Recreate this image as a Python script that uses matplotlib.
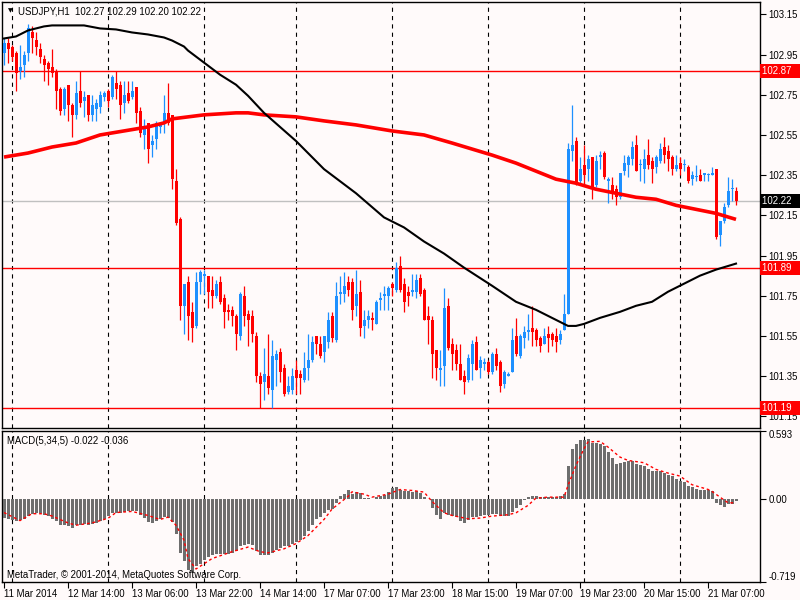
import numpy as np
import matplotlib
matplotlib.use("Agg")
import matplotlib.pyplot as plt
from matplotlib.transforms import blended_transform_factory

plt.rcParams['font.family'] = ['Liberation Sans', 'DejaVu Sans']
plt.rcParams['lines.scale_dashes'] = False

# USDJPY H1 candles, 11 Mar 2014 22:00 .. 21 Mar 2014
opens = [
    102.96, 103.01, 102.99, 102.96, 102.87, 102.90, 102.96, 103.06, 103.02, 102.98,
    102.93, 102.91, 102.89, 102.87, 102.78, 102.68, 102.80, 102.70, 102.65, 102.77,
    102.72, 102.75, 102.65, 102.68, 102.69, 102.74, 102.77, 102.74, 102.81, 102.80,
    102.71, 102.76, 102.74, 102.79, 102.67, 102.55, 102.61, 102.50, 102.53, 102.59,
    102.61, 102.66, 102.65, 102.32, 102.13, 101.70, 101.82, 101.67, 101.60, 101.82,
    101.85, 101.85, 101.78, 101.75, 101.82, 101.74, 101.68, 101.68, 101.65, 101.55,
    101.75, 101.66, 101.65, 101.55, 101.35, 101.32, 101.35, 101.28, 101.43, 101.47,
    101.39, 101.27, 101.28, 101.38, 101.36, 101.33, 101.39, 101.43, 101.55, 101.51,
    101.47, 101.52, 101.65, 101.53, 101.76, 101.76, 101.82, 101.82, 101.70, 101.77,
    101.60, 101.63, 101.64, 101.61, 101.73, 101.75, 101.75, 101.81, 101.78, 101.90,
    101.81, 101.77, 101.77, 101.77, 101.84, 101.78, 101.65, 101.63, 101.48, 101.38,
    101.40, 101.70, 101.51, 101.48, 101.41, 101.35, 101.33, 101.41, 101.52, 101.39,
    101.41, 101.42, 101.37, 101.46, 101.42, 101.31, 101.35, 101.37, 101.55, 101.45,
    101.54, 101.57, 101.59, 101.58, 101.54, 101.51, 101.56, 101.56, 101.55, 101.53,
    101.58, 101.66, 102.47, 102.52, 102.32, 102.40, 102.38, 102.44, 102.30, 102.44,
    102.46, 102.32, 102.30, 102.28, 102.24, 102.37, 102.40, 102.43, 102.50, 102.40,
    102.38, 102.45, 102.42, 102.39, 102.42, 102.49, 102.47, 102.44, 102.38, 102.41,
    102.40, 102.39, 102.33, 102.34, 102.35, 102.35, 102.35, 102.35, 102.38, 102.05,
    102.12, 102.20, 102.28, 102.27,
]
highs = [
    103.03, 103.03, 103.00, 102.97, 103.00, 102.97, 103.10, 103.09, 103.06, 103.01,
    102.95, 102.92, 102.98, 102.88, 102.79, 102.79, 102.80, 102.71, 102.82, 102.87,
    102.77, 102.75, 102.75, 102.73, 102.77, 102.77, 102.78, 102.85, 102.87, 102.82,
    102.82, 102.82, 102.82, 102.79, 102.69, 102.63, 102.61, 102.55, 102.62, 102.61,
    102.75, 102.81, 102.65, 102.38, 102.14, 101.81, 101.85, 101.72, 101.87, 101.88,
    101.88, 101.85, 101.85, 101.83, 101.85, 101.76, 101.71, 101.70, 101.66, 101.77,
    101.80, 101.68, 101.68, 101.57, 101.37, 101.49, 101.56, 101.53, 101.48, 101.49,
    101.41, 101.35, 101.39, 101.43, 101.38, 101.47, 101.56, 101.55, 101.55, 101.55,
    101.55, 101.67, 101.67, 101.82, 101.85, 101.87, 101.85, 101.84, 101.88, 101.83,
    101.68, 101.68, 101.67, 101.73, 101.77, 101.80, 101.80, 101.82, 101.92, 101.95,
    101.84, 101.80, 101.86, 101.86, 101.86, 101.79, 101.70, 101.65, 101.48, 101.48,
    101.79, 101.74, 101.54, 101.51, 101.51, 101.38, 101.46, 101.53, 101.55, 101.45,
    101.44, 101.43, 101.47, 101.49, 101.43, 101.38, 101.37, 101.59, 101.64, 101.56,
    101.60, 101.66, 101.70, 101.59, 101.55, 101.59, 101.60, 101.57, 101.59, 101.58,
    101.76, 102.51, 102.70, 102.54, 102.44, 102.50, 102.45, 102.44, 102.45, 102.47,
    102.47, 102.34, 102.34, 102.30, 102.36, 102.45, 102.45, 102.52, 102.55, 102.43,
    102.48, 102.53, 102.44, 102.45, 102.51, 102.54, 102.50, 102.45, 102.45, 102.44,
    102.43, 102.40, 102.37, 102.40, 102.38, 102.36, 102.36, 102.39, 102.38, 102.12,
    102.21, 102.34, 102.33, 102.29,
]
lows = [
    102.90, 102.91, 102.92, 102.77, 102.83, 102.84, 102.92, 102.96, 102.95, 102.91,
    102.82, 102.80, 102.84, 102.68, 102.65, 102.65, 102.62, 102.54, 102.63, 102.69,
    102.64, 102.62, 102.62, 102.62, 102.66, 102.72, 102.69, 102.73, 102.73, 102.63,
    102.66, 102.71, 102.73, 102.61, 102.54, 102.48, 102.41, 102.44, 102.48, 102.56,
    102.56, 102.60, 102.28, 102.10, 101.63, 101.56, 101.53, 101.52, 101.59, 101.76,
    101.76, 101.69, 101.69, 101.74, 101.71, 101.59, 101.63, 101.60, 101.48, 101.53,
    101.60, 101.50, 101.52, 101.32, 101.19, 101.23, 101.26, 101.19, 101.30, 101.32,
    101.25, 101.26, 101.26, 101.26, 101.26, 101.32, 101.33, 101.42, 101.46, 101.44,
    101.42, 101.49, 101.52, 101.52, 101.71, 101.72, 101.75, 101.63, 101.65, 101.55,
    101.54, 101.59, 101.58, 101.61, 101.68, 101.68, 101.68, 101.75, 101.77, 101.77,
    101.67, 101.70, 101.75, 101.74, 101.75, 101.63, 101.51, 101.34, 101.33, 101.30,
    101.30, 101.48, 101.38, 101.38, 101.33, 101.26, 101.32, 101.33, 101.38, 101.34,
    101.38, 101.36, 101.36, 101.38, 101.27, 101.29, 101.35, 101.37, 101.45, 101.44,
    101.49, 101.53, 101.50, 101.50, 101.47, 101.51, 101.47, 101.50, 101.47, 101.51,
    101.58, 101.66, 102.42, 102.30, 102.30, 102.30, 102.32, 102.23, 102.29, 102.38,
    102.33, 102.21, 102.23, 102.20, 102.23, 102.35, 102.34, 102.40, 102.37, 102.32,
    102.31, 102.38, 102.31, 102.36, 102.41, 102.41, 102.37, 102.35, 102.37, 102.35,
    102.37, 102.31, 102.30, 102.32, 102.32, 102.32, 102.32, 102.35, 102.03, 102.00,
    102.11, 102.19, 102.22, 102.20,
]
closes = [
    103.01, 102.98, 102.94, 102.86, 102.89, 102.95, 103.08, 103.03, 102.99, 102.94,
    102.90, 102.88, 102.86, 102.77, 102.67, 102.78, 102.70, 102.65, 102.76, 102.71,
    102.74, 102.65, 102.70, 102.71, 102.75, 102.76, 102.72, 102.84, 102.78, 102.70,
    102.75, 102.72, 102.77, 102.66, 102.56, 102.59, 102.48, 102.52, 102.61, 102.60,
    102.66, 102.61, 102.33, 102.11, 101.70, 101.81, 101.65, 101.59, 101.82, 101.87,
    101.86, 101.77, 101.75, 101.81, 101.72, 101.67, 101.67, 101.65, 101.56, 101.76,
    101.65, 101.63, 101.56, 101.35, 101.31, 101.36, 101.29, 101.45, 101.46, 101.37,
    101.26, 101.30, 101.35, 101.34, 101.34, 101.39, 101.43, 101.52, 101.51, 101.45,
    101.55, 101.63, 101.54, 101.75, 101.77, 101.80, 101.78, 101.68, 101.76, 101.59,
    101.63, 101.65, 101.63, 101.72, 101.74, 101.76, 101.79, 101.79, 101.89, 101.78,
    101.72, 101.75, 101.78, 101.83, 101.76, 101.63, 101.63, 101.46, 101.39, 101.39,
    101.69, 101.49, 101.46, 101.41, 101.33, 101.32, 101.44, 101.51, 101.38, 101.43,
    101.42, 101.37, 101.46, 101.40, 101.30, 101.37, 101.36, 101.53, 101.46, 101.55,
    101.57, 101.58, 101.57, 101.53, 101.50, 101.55, 101.54, 101.53, 101.52, 101.56,
    101.66, 102.48, 102.50, 102.31, 102.38, 102.35, 102.43, 102.29, 102.42, 102.45,
    102.34, 102.33, 102.27, 102.24, 102.36, 102.41, 102.44, 102.49, 102.37, 102.40,
    102.43, 102.40, 102.38, 102.44, 102.48, 102.45, 102.43, 102.38, 102.40, 102.38,
    102.40, 102.32, 102.35, 102.34, 102.32, 102.36, 102.35, 102.36, 102.04, 102.12,
    102.19, 102.27, 102.28, 102.22,
]

# moving averages (bar index, price)
ma_fast_bars = [0, 3, 6, 10, 12, 20, 24, 28, 32, 36, 40, 42, 45, 46, 50, 52, 54, 58, 61,
                65, 73, 80, 88, 95, 100, 105, 110, 115, 122, 128, 133, 138, 141, 143,
                145, 149, 154, 158, 162, 166, 169, 174, 178, 183]
ma_fast_vals = [103.03, 103.04, 103.07, 103.09, 103.095, 103.095, 103.08, 103.075, 103.06,
                103.05, 103.035, 103.02, 102.99, 102.97, 102.91, 102.88, 102.85, 102.80,
                102.745, 102.66, 102.52, 102.38, 102.26, 102.14, 102.09, 102.02, 101.96,
                101.89, 101.80, 101.72, 101.68, 101.63, 101.60, 101.60, 101.61, 101.64,
                101.67, 101.70, 101.72, 101.77, 101.80, 101.85, 101.88, 101.91]
ma_slow_bars = [0, 6, 12, 18, 24, 30, 36, 40, 42, 46, 50, 54, 58, 61, 65, 73, 80, 88, 97,
                105, 112, 122, 128, 133, 138, 143, 148, 153, 158, 163, 168, 173, 178, 183]
ma_slow_vals = [102.44, 102.46, 102.49, 102.51, 102.55, 102.57, 102.59, 102.61, 102.63,
                102.64, 102.65, 102.655, 102.66, 102.66, 102.65, 102.64, 102.62, 102.60,
                102.57, 102.55, 102.51, 102.45, 102.41, 102.37, 102.33, 102.31, 102.28,
                102.26, 102.24, 102.23, 102.20, 102.18, 102.16, 102.13]

levels = [102.87, 101.89, 101.19]
bid = 102.22

macd = [
    -0.168, -0.174, -0.188, -0.197, -0.188, -0.174, -0.151, -0.130, -0.122, -0.125,
    -0.139, -0.151, -0.174, -0.197, -0.226, -0.226, -0.238, -0.252, -0.232, -0.226,
    -0.223, -0.226, -0.220, -0.209, -0.197, -0.180, -0.151, -0.122, -0.122, -0.122,
    -0.116, -0.110, -0.104, -0.110, -0.139, -0.168, -0.203, -0.212, -0.191, -0.174,
    -0.159, -0.168, -0.203, -0.304, -0.470, -0.545, -0.623, -0.638, -0.580, -0.565,
    -0.536, -0.507, -0.487, -0.484, -0.484, -0.484, -0.478, -0.472, -0.458, -0.412,
    -0.400, -0.397, -0.406, -0.455, -0.487, -0.493, -0.493, -0.470, -0.449, -0.426,
    -0.414, -0.412, -0.391, -0.377, -0.362, -0.325, -0.284, -0.226, -0.180, -0.159,
    -0.122, -0.101, -0.087, -0.035, 0.023, 0.043, 0.072, 0.043, 0.058, 0.052,
    0.006, 0.006, -0.006, 0.014, 0.023, 0.035, 0.058, 0.093, 0.101, 0.072,
    0.067, 0.067, 0.058, 0.067, 0.049, 0.014, -0.006, -0.081, -0.145, -0.180,
    -0.122, -0.139, -0.151, -0.159, -0.197, -0.212, -0.183, -0.162, -0.159, -0.154,
    -0.145, -0.139, -0.130, -0.130, -0.151, -0.151, -0.151, -0.116, -0.081, -0.052,
    -0.014, 0.014, 0.023, 0.023, 0.014, 0.014, 0.014, 0.014, 0.014, 0.020,
    0.043, 0.281, 0.435, 0.472, 0.507, 0.507, 0.522, 0.487, 0.484, 0.478,
    0.458, 0.406, 0.354, 0.304, 0.310, 0.319, 0.328, 0.325, 0.304, 0.296,
    0.284, 0.261, 0.238, 0.238, 0.241, 0.226, 0.209, 0.197, 0.168, 0.151,
    0.145, 0.110, 0.101, 0.087, 0.072, 0.072, 0.072, 0.064, -0.035, -0.058,
    -0.072, -0.043, -0.043, -0.022,
]
signal_bars = [0, 4, 7, 10, 12, 16, 18, 22, 26, 28, 32, 36, 39, 41, 43, 45, 46, 48, 50,
               52, 57, 61, 64, 66, 70, 73, 76, 80, 82, 86, 87, 90, 92, 96, 99, 102, 105,
               107, 110, 112, 116, 119, 122, 126, 128, 131, 133, 136, 140, 141, 143, 145,
               146, 149, 151, 154, 156, 160, 163, 166, 169, 172, 176, 177, 179, 181, 183]
signal_vals = [-0.12, -0.19, -0.13, -0.13, -0.15, -0.21, -0.23, -0.21, -0.17, -0.12,
               -0.11, -0.145, -0.18, -0.16, -0.23, -0.36, -0.52, -0.61, -0.565, -0.52,
               -0.46, -0.42, -0.46, -0.47, -0.435, -0.39, -0.32, -0.18, -0.09, 0.02,
               0.06, 0.04, 0.014, 0.04, 0.08, 0.072, 0.058, -0.023, -0.122, -0.145,
               -0.174, -0.168, -0.151, -0.139, -0.122, -0.058, 0.006, 0.014, 0.014,
               0.116, 0.29, 0.435, 0.493, 0.499, 0.449, 0.362, 0.333, 0.313, 0.255,
               0.223, 0.197, 0.122, 0.081, 0.064, 0.014, -0.035, -0.036]

day_starts = [2, 26, 50, 73, 97, 121, 145, 169]
time_labels = ["11 Mar 2014", "12 Mar 14:00", "13 Mar 06:00", "13 Mar 22:00",
               "14 Mar 14:00", "17 Mar 07:00", "17 Mar 23:00", "18 Mar 15:00",
               "19 Mar 07:00", "19 Mar 23:00", "20 Mar 15:00", "21 Mar 07:00"]

bg = '#fffafa'
bull = '#1e90ff'
bear = '#ff0000'
fs = 6.9

fig = plt.figure(figsize=(8, 6), dpi=100, facecolor=bg)
ax = fig.add_axes([2 / 800, 1 - 428 / 600, 758 / 800, 426 / 600], facecolor=bg)
axm = fig.add_axes([2 / 800, 1 - 581.5 / 600, 758 / 800, 151 / 600], facecolor=bg)

o = np.array(opens)
h = np.array(highs)
l = np.array(lows)
c = np.array(closes)
x = np.arange(len(o))
cols = np.where(c >= o, bull, bear)

# day separators
for a in (ax, axm):
    for d in day_starts:
        a.axvline(d, color='black', lw=0.8, ls=(0, (3, 3)), zorder=1)

# price levels
for lv in levels:
    ax.axhline(lv, color=bear, lw=1.0, zorder=2)
ax.axhline(bid, color='#c0c0c0', lw=1.0, zorder=2)

# candles
ax.vlines(x, l, h, colors=cols, lw=0.9, zorder=3)
ax.bar(x, np.maximum(np.abs(c - o), 0.005), bottom=np.minimum(o, c), width=0.75,
       color=cols, linewidth=0, zorder=4)

# moving averages
ax.plot(ma_slow_bars, ma_slow_vals, color=bear, lw=2.6, zorder=5, solid_capstyle='butt')
ax.plot(ma_fast_bars, ma_fast_vals, color='black', lw=1.5, zorder=5)

ax.set_xlim(-0.5, 189)
ax.set_ylim(101.0921, 103.2115)
ax.set_xticks([])
ax.yaxis.tick_right()
ax.set_yticks(np.round(np.arange(101.15, 103.16, 0.2), 2))
ax.yaxis.set_major_formatter(matplotlib.ticker.FormatStrFormatter('%.2f'))
ax.tick_params(axis='y', direction='out', length=4, width=0.8, pad=2, labelsize=fs,
               colors='black')

tr = blended_transform_factory(ax.transAxes, ax.transData)
for lv in levels:
    ax.text(1.003, lv, f"{lv:.2f}   ", transform=tr, ha='left', va='center',
            fontsize=fs, color='white',
            bbox=dict(boxstyle='square,pad=0.2', fc=bear, ec='none'), zorder=10)
ax.text(1.003, bid, f"{bid:.2f}   ", transform=tr, ha='left', va='center',
        fontsize=fs, color='white',
        bbox=dict(boxstyle='square,pad=0.2', fc='black', ec='none'), zorder=10)

fig.text(10 / 800, 1 - 11 / 600, '\u25bc', fontsize=4.5, family='DejaVu Sans',
         ha='center', va='center', color='black')
fig.text(18 / 800, 1 - 11 / 600, 'USDJPY,H1  102.27 102.29 102.20 102.22',
         fontsize=fs, ha='left', va='center', color='black')

# MACD panel
axm.bar(x, macd, width=0.75, color='#6e6e6e', linewidth=0, zorder=3)
axm.plot(signal_bars, signal_vals, color=bear, lw=1.0, ls=(0, (2, 2)), zorder=4)
axm.set_xlim(-0.5, 189)
axm.set_ylim(-0.719, 0.593)
axm.yaxis.tick_right()
axm.set_yticks([-0.719, 0.0, 0.593])
axm.set_yticklabels(['-0.719', '0.00', '0.593'])
axm.tick_params(axis='y', direction='out', length=4, width=0.8, pad=2, labelsize=fs)
ylabs = axm.get_yticklabels()
ylabs[0].set_va('bottom')
ylabs[2].set_va('top')
axm.set_xticks(np.arange(0, 177, 16))
axm.set_xticklabels(time_labels, ha='left')
axm.tick_params(axis='x', direction='out', length=4, width=0.8, pad=1.5, labelsize=fs)

axm.text(5 / 758, 1 - 10 / 151, 'MACD(5,34,5) -0.022 -0.036', transform=axm.transAxes,
         fontsize=fs, ha='left', va='center')
axm.text(5 / 758, 7 / 151, 'MetaTrader, \u00a9 2001-2014, MetaQuotes Software Corp.',
         transform=axm.transAxes, fontsize=fs, ha='left', va='center')

for a in (ax, axm):
    for s in a.spines.values():
        s.set_color('black')
        s.set_linewidth(1.0)

fig.savefig('out.png', dpi=100, facecolor=bg)
